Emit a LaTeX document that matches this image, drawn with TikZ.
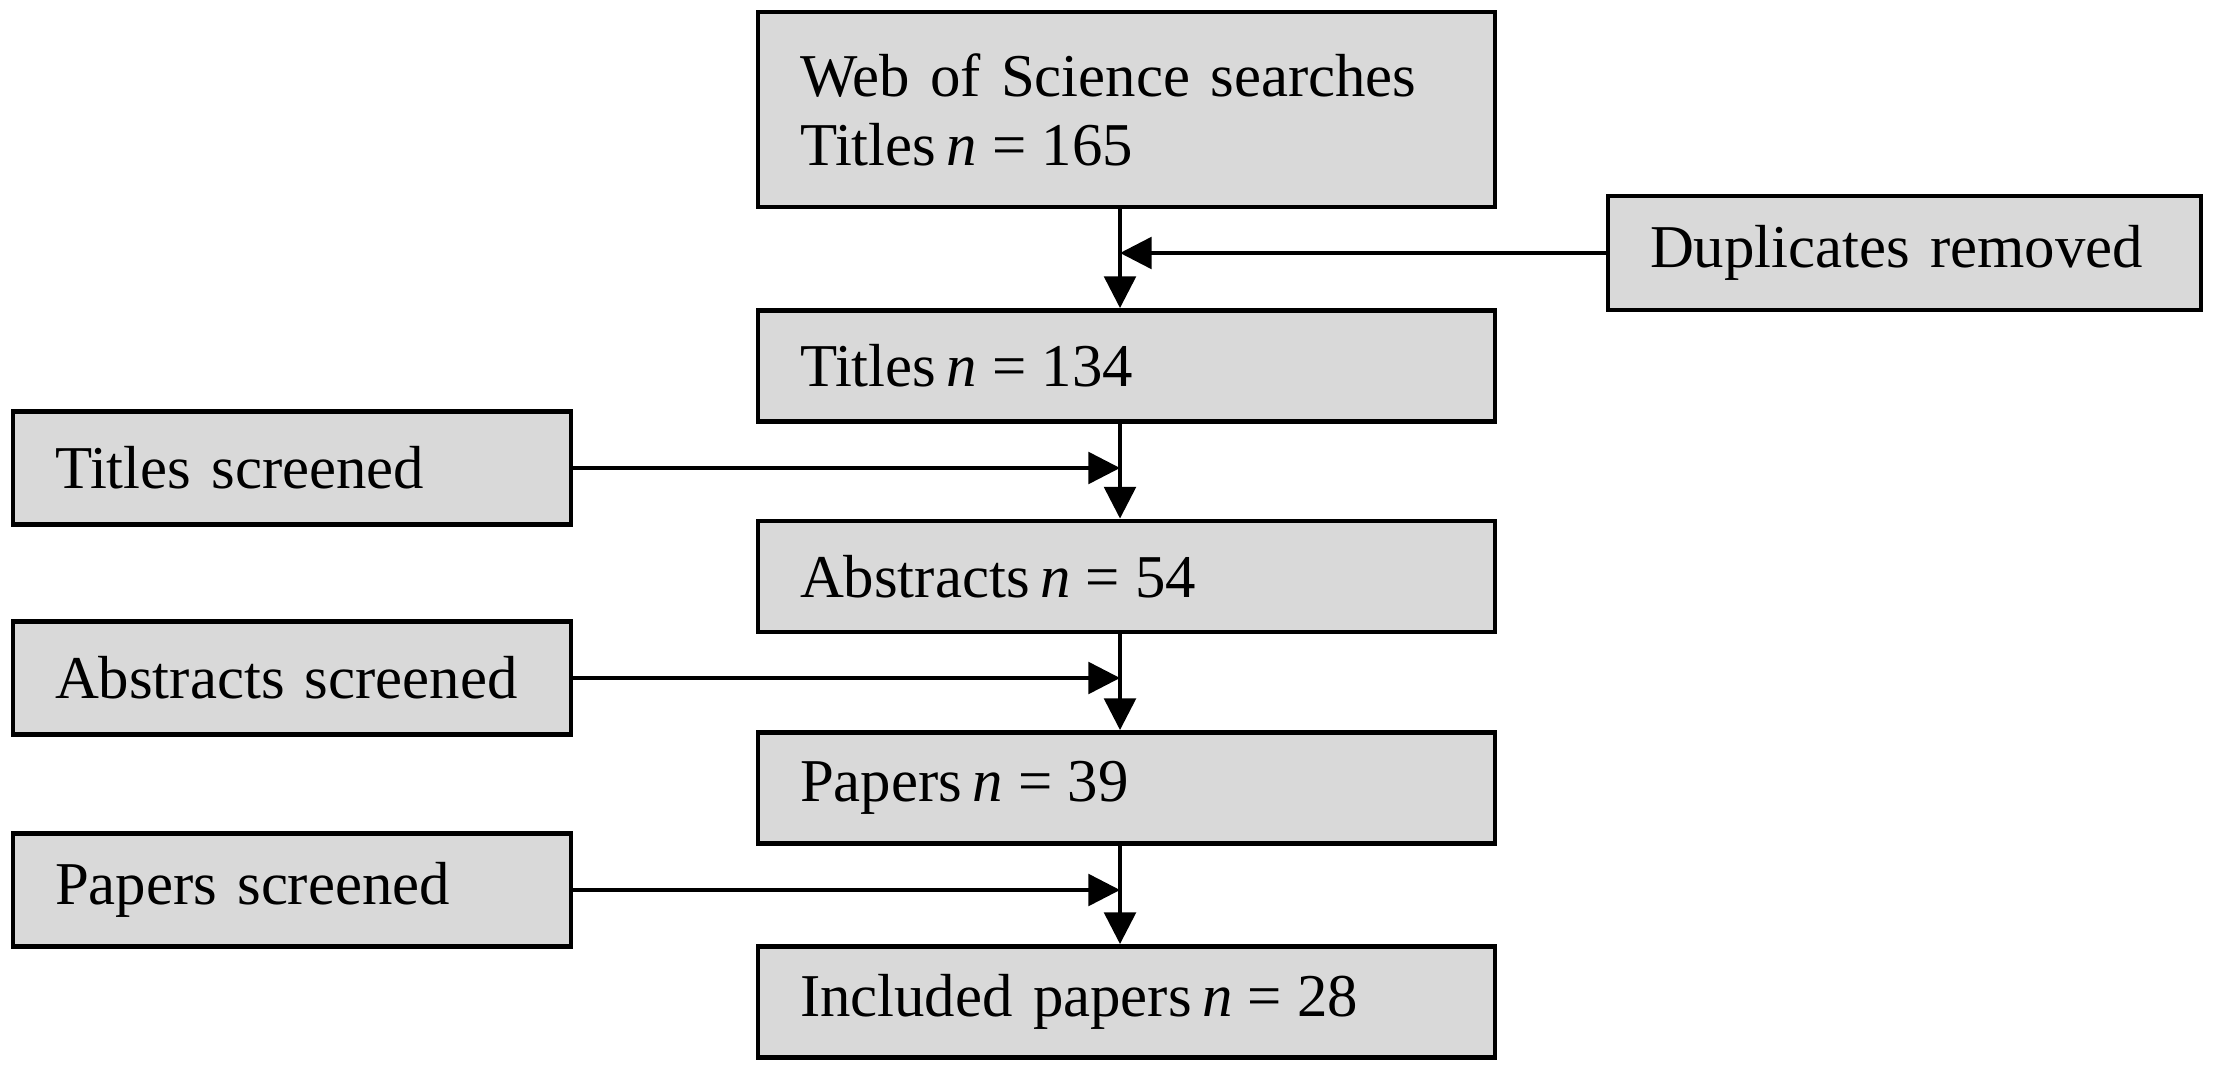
\documentclass[tikz,border=0pt]{standalone}
\usepackage{fontspec}
\setmainfont{Liberation Serif}[WordSpace=0.75]
\usetikzlibrary{arrows.meta}
\definecolor{BoxGray}{RGB}{217,217,217}
\newcommand{\Nval}{\hspace{3pt}\textit{n}\hspace{0.25em}=\hspace{0.25em}}
\begin{document}
\begin{tikzpicture}
\tikzset{BoxStyle/.style ={draw, line width=1.4pt, fill=BoxGray, inner xsep=0.42cm, inner ysep=0pt, align=left, font=\fontsize{17.3}{19.6}\selectfont}}
\tikzset{MainBox/.style ={BoxStyle, text width=6.53cm, minimum height=1.11cm}}
\tikzset{SideBox/.style ={BoxStyle, text width=4.74cm, minimum height=1.13cm}}
\tikzset{EdgeStyle/.style ={-{Triangle[length=9pt, width=9pt]}, line width=1pt}}
\useasboundingbox (0,0) rectangle (22.17,10.73);
\node[MainBox, minimum height=1.95cm] (Search) at (11.265,9.635) {Web of Science searches\\Titles\Nval165};
\node[BoxStyle, text width=5.09cm, minimum height=1.14cm] (Dupl) at (19.045,8.2) {Duplicates removed};
\node[MainBox] (Titles) at (11.265,7.07) {Titles\Nval134};
\node[SideBox] (TScr) at (2.92,6.05) {Titles screened};
\node[MainBox] (Abstr) at (11.265,4.965) {Abstracts\Nval54};
\node[SideBox] (AScr) at (2.92,3.95) {Abstracts screened};
\node[MainBox] (Papers) at (11.265,2.85) {Papers\Nval39};
\node[SideBox] (PScr) at (2.92,1.83) {Papers screened};
\node[MainBox] (Incl) at (11.265,0.71) {Included papers\Nval28};
\coordinate (Spine) at (11.2,0);
\draw[EdgeStyle] (Search.south -| Spine) -- (Titles.north -| Spine);
\draw[EdgeStyle] (Titles.south -| Spine) -- (Abstr.north -| Spine);
\draw[EdgeStyle] (Abstr.south -| Spine) -- (Papers.north -| Spine);
\draw[EdgeStyle] (Papers.south -| Spine) -- (Incl.north -| Spine);
\draw[EdgeStyle] (Dupl.west) -- (Dupl.west -| Spine);
\draw[EdgeStyle] (TScr.east) -- (TScr.east -| Spine);
\draw[EdgeStyle] (AScr.east) -- (AScr.east -| Spine);
\draw[EdgeStyle] (PScr.east) -- (PScr.east -| Spine);
\end{tikzpicture}
\end{document}
